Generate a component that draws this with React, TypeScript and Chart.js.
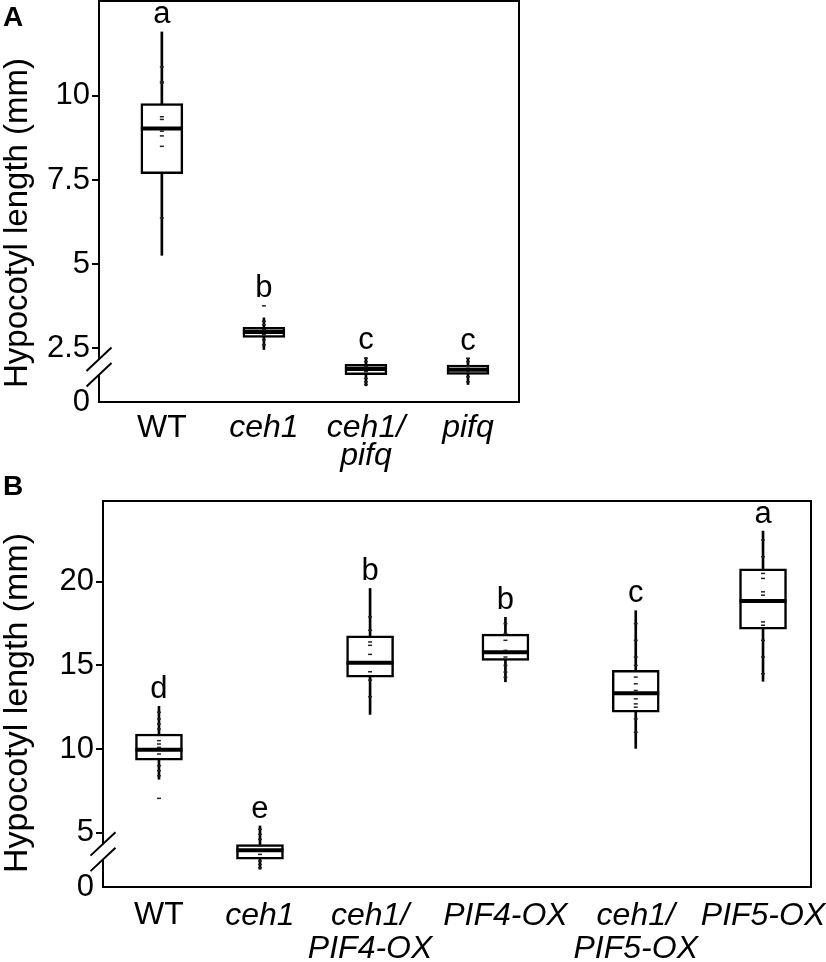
import React, { useEffect, useRef } from "react";
import { Chart, registerables } from "chart.js";
Chart.register(...registerables);

const FONT = "'Liberation Sans', Arial, Helvetica, sans-serif";
const Y_TITLE = "Hypocotyl length (mm)";

// ---------- Panel A data ----------
const catsA: string[][] = [["WT"], ["ceh1"], ["ceh1/", "pifq"], ["pifq"]];
const posA = [1, 2, 3, 4];
const q1A = [7.69, 2.82, 1.71, 1.72];
const q3A = [9.77, 3.12, 2.02, 2.0];
const medA = [9.03, 2.98, 1.88, 1.86];
const loA = [5.26, 2.46, 1.38, 1.42];
const hiA = [11.9, 3.4, 2.22, 2.2];
const lettersA = ["a", "b", "c", "c"];
const pointsA: number[][] = [
  [10.86, 10.42, 10.38, 9.38, 9.3, 8.95, 8.81, 8.5, 6.37],
  [3.76, 3.3, 3.2, 3.05, 2.9, 2.75, 2.6],
  [2.2, 2.1, 1.95, 1.8, 1.6, 1.5, 1.42],
  [2.2, 2.1, 1.95, 1.8, 1.65, 1.5],
];
const yTicksA = [0, 2.5, 5, 7.5, 10];
const yTickLabelsA = ["0", "2.5", "5", "7.5", "10"];

// ---------- Panel B data ----------
const catsB: string[][] = [
  ["WT"],
  ["ceh1"],
  ["ceh1/", "PIF4-OX"],
  ["PIF4-OX"],
  ["ceh1/", "PIF5-OX"],
  ["PIF5-OX"],
];
const posB = [1, 2, 3.09, 4.43, 5.72, 6.98];
const q1B = [9.33, 3.41, 14.29, 15.3, 12.21, 17.17];
const q3B = [10.9, 4.28, 16.77, 16.87, 14.7, 20.78];
const medB = [9.95, 3.95, 15.16, 15.78, 13.33, 18.85];
const loB = [8.19, 2.81, 12.07, 14.02, 10.04, 14.05];
const hiB = [12.55, 5.4, 19.6, 17.87, 18.27, 23.03];
const lettersB = ["d", "e", "b", "b", "c", "a"];
const pointsB: number[][] = [
  [12.2, 11.8, 11.5, 11.2, 10.5, 10.3, 10.1, 9.7, 9.0, 8.7, 8.4, 7.05],
  [5.2, 4.9, 4.6, 4.2, 3.7, 3.3, 3.1, 2.9],
  [17.9, 17.1, 16.4, 16.2, 15.66, 14.62, 14.12, 13.13],
  [17.5, 16.9, 16.5, 15.9, 15.5, 15.0, 14.6, 14.3],
  [17.5, 16.5, 15.5, 15.0, 14.3, 13.9, 13.5, 13.0, 12.7, 12.5, 11.8, 11.0],
  [22.5, 21.5, 20.5, 20.2, 19.4, 19.2, 17.6, 17.4, 16.5, 15.5, 14.5],
];
const yTicksB = [0, 5, 10, 15, 20];
const yTickLabelsB = ["0", "5", "10", "15", "20"];

type PanelProps = {
  cats: string[][];
  pos: number[];
  q1: number[];
  q3: number[];
  med: number[];
  lo: number[];
  hi: number[];
  letters: string[];
  points: number[][];
  yTicks: number[];
  yTickLabels: string[];
  yMin: number;
  yMax: number;
  xMin: number;
  xMax: number;
  boxWidth: number;
  width: number;
  height: number;
  labelPad: number;
  labelLine: number;
  titleSize: number;
  titleX: number;
  titleY: number;
  area: { left: number; top: number; right: number; bottom: number };
};

const framePlugin = {
  id: "frameBreak",
  afterDraw(chart: any, _args: any, opts: any) {
    const { ctx, chartArea } = chart;
    const { left, top, right, bottom } = chartArea;
    ctx.save();
    ctx.strokeStyle = "#000";
    ctx.lineWidth = 2;
    ctx.strokeRect(left, top, right - left, bottom - top);
    const ys = chart.scales.y;
    const tickPx = ys.getPixelForValue(opts.firstTick);
    const c = tickPx + (bottom - tickPx) * 0.35;
    ctx.fillStyle = "#fff";
    ctx.fillRect(left - 2, c - 7.5, 4, 15);
    ctx.beginPath();
    for (const off of [-7.75, 7.75]) {
      ctx.moveTo(left - 12.5, c + off + 11.7);
      ctx.lineTo(left + 12.5, c + off - 11.7);
    }
    ctx.stroke();
    ctx.restore();
  },
};

const yTitlePlugin = {
  id: "yTitle",
  afterDraw(chart: any, _args: any, opts: any) {
    const { ctx } = chart;
    ctx.save();
    ctx.translate(opts.x, opts.y);
    ctx.rotate(-Math.PI / 2);
    ctx.font = `${opts.size}px ${FONT}`;
    ctx.fillStyle = "#000";
    ctx.textAlign = "center";
    ctx.textBaseline = "alphabetic";
    ctx.fillText(opts.text, 0, 0);
    ctx.restore();
  },
};

const lettersPlugin = {
  id: "groupLetters",
  afterDatasetsDraw(chart: any, _args: any, opts: any) {
    const { ctx } = chart;
    const xs = chart.scales.x;
    const ys = chart.scales.y;
    ctx.save();
    ctx.font = `31px ${FONT}`;
    ctx.fillStyle = "#000";
    ctx.textAlign = "center";
    ctx.textBaseline = "middle";
    opts.letters.forEach((l: string, i: number) => {
      const topVal = Math.max(opts.hi[i], ...opts.points[i]);
      ctx.fillText(l, xs.getPixelForValue(opts.pos[i]), ys.getPixelForValue(topVal) - 17);
    });
    ctx.restore();
  },
};

function Panel(p: PanelProps) {
  const ref = useRef<HTMLCanvasElement | null>(null);
  useEffect(() => {
    if (!ref.current) return;
    const pts: { x: number; y: number }[] = [];
    p.points.forEach((arr, i) => arr.forEach((v) => pts.push({ x: p.pos[i], y: v })));
    const chart = new Chart(ref.current, {
      type: "bar",
      data: {
        datasets: [
          {
            type: "scatter",
            data: pts,
            pointStyle: "line",
            pointRadius: 2,
            pointBorderWidth: 1.5,
            borderColor: "#222",
            backgroundColor: "#222",
            order: 0,
          } as any,
          {
            type: "scatter",
            data: p.med.map((v, i) => ({ x: p.pos[i], y: v })),
            pointStyle: "line",
            pointRadius: p.boxWidth / 2,
            pointBorderWidth: 4,
            borderColor: "#000",
            backgroundColor: "#000",
            order: 1,
          } as any,
          {
            type: "bar",
            data: p.q1.map((v, i) => ({ x: p.pos[i], y: [v, p.q3[i]] })),
            backgroundColor: "#fff",
            borderColor: "#000",
            borderWidth: 2.5,
            borderSkipped: false,
            barThickness: p.boxWidth,
            grouped: false,
            order: 2,
          } as any,
          {
            type: "bar",
            data: p.lo.map((v, i) => ({ x: p.pos[i], y: [v, p.hi[i]] })),
            backgroundColor: "#000",
            borderWidth: 0,
            barThickness: 2,
            grouped: false,
            order: 3,
          } as any,
        ],
      },
      options: {
        animation: false,
        responsive: false,
        devicePixelRatio: 1,
        layout: {
          autoPadding: false,
          padding: {
            left: 0,
            top: p.area.top,
            right: p.width - p.area.right,
            bottom: 0,
          },
        },
        plugins: {
          legend: { display: false },
          tooltip: { enabled: false },
          frameBreak: { firstTick: p.yTicks[1] },
          yTitle: { text: Y_TITLE, size: p.titleSize, x: p.titleX, y: p.titleY },
          groupLetters: { letters: p.letters, pos: p.pos, hi: p.hi, points: p.points },
        } as any,
        scales: {
          x: {
            type: "linear",
            min: p.xMin,
            max: p.xMax,
            offset: false,
            grid: { display: false, drawTicks: false },
            border: { display: false },
            afterFit: (s: any) => {
              s.height = p.height - p.area.bottom;
              s.paddingLeft = 0;
              s.paddingRight = 0;
            },
            afterBuildTicks: (s: any) => {
              s.ticks = p.pos.map((v) => ({ value: v }));
            },
            ticks: {
              autoSkip: false,
              maxRotation: 0,
              minRotation: 0,
              padding: p.labelPad,
              color: "#000",
              font: (ctx: any) => ({
                family: FONT,
                size: 32,
                lineHeight: p.labelLine,
                style: p.cats[ctx.index] && p.cats[ctx.index][0] === "WT" ? "normal" : "italic",
              }),
              callback: (_v: any, i: number) => p.cats[i],
            },
          },
          y: {
            type: "linear",
            min: p.yMin,
            max: p.yMax,
            afterFit: (s: any) => {
              s.width = p.area.left;
              s.paddingTop = 0;
              s.paddingBottom = 0;
            },
            afterBuildTicks: (s: any) => {
              s.ticks = p.yTicks.map((v, i) => ({ value: i === 0 ? p.yMin : v }));
            },
            grid: {
              drawOnChartArea: false,
              drawTicks: true,
              tickLength: 7,
              lineWidth: 2,
              tickColor: (ctx: any) => (ctx.index === 0 ? "rgba(0,0,0,0)" : "#000"),
            },
            border: { display: false },
            title: { display: false },
            ticks: {
              color: "#000",
              padding: 2,
              font: { family: FONT, size: 31 },
              callback: (_v: any, i: number) => p.yTickLabels[i],
            },
          },
        },
      },
      plugins: [framePlugin, lettersPlugin, yTitlePlugin],
    });
    return () => chart.destroy();
  }, []);
  return <canvas ref={ref} width={p.width} height={p.height} style={{ display: "block", width: p.width, height: p.height }} />;
}

export default function App() {
  return (
    <div style={{ position: "absolute", left: 0, top: 0, width: 826, height: 962, background: "#fff", overflow: "hidden" }}>
      <div style={{ position: "absolute", left: 0, top: 0 }}>
        <Panel
          cats={catsA}
          pos={posA}
          q1={q1A}
          q3={q3A}
          med={medA}
          lo={loA}
          hi={hiA}
          letters={lettersA}
          points={pointsA}
          yTicks={yTicksA}
          yTickLabels={yTickLabelsA}
          yMin={0.9}
          yMax={12.82}
          xMin={0.384}
          xMax={4.5}
          boxWidth={42}
          width={826}
          height={478}
          labelPad={12}
          labelLine={0.88}
          titleSize={33}
          titleX={26.5}
          titleY={223}
          area={{ left: 99, top: 1, right: 519, bottom: 402 }}
        />
      </div>
      <div style={{ position: "absolute", left: 0, top: 478 }}>
        <Panel
          cats={catsB}
          pos={posB}
          q1={q1B}
          q3={q3B}
          med={medB}
          lo={loB}
          hi={hiB}
          letters={lettersB}
          points={pointsB}
          yTicks={yTicksB}
          yTickLabels={yTickLabelsB}
          yMin={1.75}
          yMax={24.83}
          xMin={0.446}
          xMax={7.455}
          boxWidth={47}
          width={826}
          height={484}
          labelPad={12}
          labelLine={1.04}
          titleSize={34}
          titleX={26.5}
          titleY={225}
          area={{ left: 103, top: 23, right: 811, bottom: 409 }}
        />
      </div>
      <div style={{ position: "absolute", left: 3, top: 3, font: `bold 28px ${FONT}`, lineHeight: 1 }}>A</div>
      <div style={{ position: "absolute", left: 3, top: 472, font: `bold 28px ${FONT}`, lineHeight: 1 }}>B</div>
    </div>
  );
}
